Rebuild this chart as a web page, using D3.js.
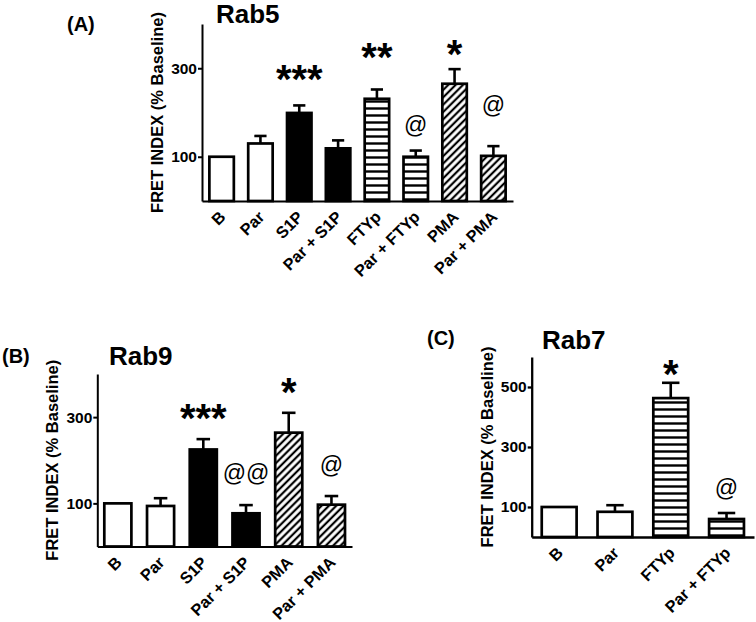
<!DOCTYPE html>
<html><head><meta charset="utf-8">
<script src="https://cdn.jsdelivr.net/npm/d3@7"></script>
<style>
body{margin:0;background:#fff}
svg{display:block}
text{font-family:Arial,"Liberation Sans",Helvetica,sans-serif}
</style>
</head><body>
<svg id="chart" width="756" height="622"></svg>
<script>
// ---------- DATA ----------
const catsA  = ["B","Par","S1P","Par + S1P","FTYp","Par + FTYp","PMA","Par + PMA"];
const valsA  = [100,130,199,119,231,100,265,102];
const errsA  = [0,17,17,18,21,14,33,22];
const fillsA = ["open","open","solid","solid","hstripe","hstripe","diag","diag"];
const marksA = ["","","***","","**","@","*","@"];
const markLevelA = [null,null,296,null,346,167,352,212];
const ticksA = [100,300];

const catsB  = ["B","Par","S1P","Par + S1P","PMA","Par + PMA"];
const valsB  = [100,94,225,77,264,97];
const errsB  = [0,18,24,19,46,20];
const fillsB = ["open","open","solid","solid","diag","diag"];
const marksB = ["","","***","@@","*","@"];
const markLevelB = [null,null,319,166,379,184];
const ticksB = [100,300];

const catsC  = ["B","Par","FTYp","Par + FTYp"];
const valsC  = [100,84,463,60];
const errsC  = [0,22,51,20];
const fillsC = ["open","open","hstripe","hstripe"];
const marksC = ["","","*","@"];
const markLevelC = [null,null,573,157];
const ticksC = [100,300,500];

const yLabel = "FRET INDEX (% Baseline)";

// ---------- SETUP ----------
const FONT = 'Arial,"Liberation Sans",sans-serif';
const svg = d3.select("#chart");
const defs = svg.append("defs");
const ph = defs.append("pattern").attr("id","hstripe").attr("patternUnits","userSpaceOnUse")
  .attr("width",10).attr("height",7);
ph.append("rect").attr("width",10).attr("height",7).attr("fill","#fff");
ph.append("rect").attr("x",0).attr("y",2.3).attr("width",10).attr("height",2.4).attr("fill","#000");
const pd = defs.append("pattern").attr("id","diag").attr("patternUnits","userSpaceOnUse")
  .attr("width",5.2).attr("height",10).attr("patternTransform","rotate(45)");
pd.append("rect").attr("width",5.2).attr("height",10).attr("fill","#fff");
pd.append("rect").attr("x",1.5).attr("y",0).attr("width",2.2).attr("height",10).attr("fill","#000");

function fillOf(f){
  if(f==="open") return "#fff";
  if(f==="solid") return "#000";
  return "url(#"+f+")";
}

function drawPanel(cfg){
  const g = svg.append("g");
  const x = d3.scaleBand().domain(cfg.cats).range([cfg.x0,cfg.x1])
    .paddingInner(cfg.pi).paddingOuter(cfg.po);
  const y = d3.scaleLinear().domain([0,cfg.ymax]).range([cfg.yb,cfg.yt]);
  const bw = x.bandwidth();

  // bars
  g.selectAll(".bar").data(cfg.cats).enter().append("rect")
    .attr("x",d=>x(d)).attr("width",bw)
    .attr("y",(d,i)=>y(cfg.vals[i])).attr("height",(d,i)=>y(0)-y(cfg.vals[i]))
    .attr("fill",(d,i)=>fillOf(cfg.fills[i]))
    .attr("stroke","#000").attr("stroke-width",2.7);

  // error bars
  cfg.cats.forEach((d,i)=>{
    if(!cfg.errs[i]) return;
    const cx = x(d)+bw/2, top=y(cfg.vals[i]+cfg.errs[i]);
    g.append("line").attr("x1",cx).attr("x2",cx).attr("y1",y(cfg.vals[i])).attr("y2",top)
      .attr("stroke","#000").attr("stroke-width",2.6);
    g.append("line").attr("x1",cx-bw*0.25).attr("x2",cx+bw*0.25).attr("y1",top).attr("y2",top)
      .attr("stroke","#000").attr("stroke-width",2.6);
  });

  // annotations
  cfg.cats.forEach((d,i)=>{
    const m = cfg.marks[i]; if(!m) return;
    const cx = x(d)+bw/2, cy=y(cfg.markLevel[i]);
    if(m[0]==="*"){
      g.append("text").attr("x",cx).attr("y",cy+0.58*40).attr("text-anchor","middle")
        .attr("font-size",40).attr("font-weight","bold").text(m);
    } else {
      g.append("text").attr("x",cx).attr("y",cy+0.27*23).attr("text-anchor","middle")
        .attr("font-size",23).text(m);
    }
  });

  // axes
  const ya = g.append("g").attr("transform",`translate(${cfg.x0},0)`)
    .call(d3.axisLeft(y).tickValues(cfg.ticks).tickSize(4).tickSizeOuter(0).tickPadding(1).tickFormat(d3.format("d")));
  ya.select(".domain").attr("stroke-width",cfg.aw);
  ya.selectAll(".tick line").attr("stroke-width",cfg.aw);
  ya.selectAll(".tick text").attr("font-size",15.5).attr("font-weight","bold")
    .attr("font-family",FONT).attr("fill","#000");

  const xa = g.append("g").attr("transform",`translate(0,${cfg.yb})`)
    .call(d3.axisBottom(x).tickSize(0).tickSizeOuter(0).tickPadding(0));
  xa.select(".domain").attr("stroke-width",cfg.aw);
  xa.selectAll(".tick text").attr("font-size",16.3).attr("font-weight","bold")
    .attr("font-family",FONT).attr("fill","#000")
    .attr("text-anchor","end").attr("y",0).attr("dy",0)
    .attr("transform",`translate(5,17) rotate(-45)`);

  // y label
  const cyMid = (cfg.yb+cfg.yt)/2;
  g.append("text").attr("transform",`translate(${cfg.x0-39},${cyMid}) rotate(-90)`)
    .attr("text-anchor","middle").attr("font-size",16.5).attr("font-weight","bold").text(yLabel);

  // title & letter
  g.append("text").attr("x",cfg.titleX).attr("y",cfg.titleY).attr("font-size",26)
    .attr("font-weight","bold").text(cfg.title);
  g.append("text").attr("x",cfg.letterX).attr("y",cfg.letterY).attr("font-size",20)
    .attr("font-weight","bold").text(cfg.letter);
}

drawPanel({cats:catsA,vals:valsA,errs:errsA,fills:fillsA,marks:marksA,markLevel:markLevelA,ticks:ticksA,
  x0:202,x1:513,pi:0.37,po:0.19,yb:201,yt:24,ymax:400,aw:2,
  title:"Rab5",titleX:216,titleY:23,letter:"(A)",letterX:67,letterY:31});
drawPanel({cats:catsB,vals:valsB,errs:errsB,fills:fillsB,marks:marksB,markLevel:markLevelB,ticks:ticksB,
  x0:97.3,x1:352,pi:0.366,po:0.164,yb:546.5,yt:374,ymax:400,aw:2,
  title:"Rab9",titleX:109,titleY:365,letter:"(B)",letterX:2,letterY:363});
drawPanel({cats:catsC,vals:valsC,errs:errsC,fills:fillsC,marks:marksC,markLevel:markLevelC,ticks:ticksC,
  x0:531.7,x1:754,pi:0.375,po:0.18,yb:537,yt:357,ymax:600,aw:2.3,
  title:"Rab7",titleX:542,titleY:349,letter:"(C)",letterX:427,letterY:345});
</script>
</body></html>
